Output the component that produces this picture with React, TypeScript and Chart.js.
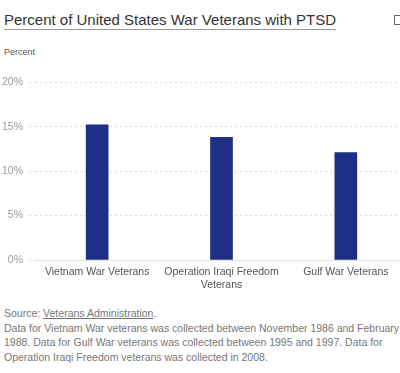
import React, { useEffect, useRef } from "react";
import { Chart, registerables } from "chart.js";

Chart.register(...registerables);

const categories: (string | string[])[] = [
  "Vietnam War Veterans",
  ["Operation Iraqi Freedom", "Veterans"],
  "Gulf War Veterans",
];
const percentValues: number[] = [15.2, 13.8, 12.1];
const yTickMax = 20;
const yTickStep = 5;

const FONT = "'Liberation Sans', Arial, Helvetica, sans-serif";

export default function App() {
  const canvasRef = useRef<HTMLCanvasElement | null>(null);

  useEffect(() => {
    const canvas = canvasRef.current;
    if (!canvas) return;
    const chart = new Chart(canvas, {
      type: "bar",
      data: {
        labels: categories,
        datasets: [
          {
            data: percentValues,
            backgroundColor: "#1f2f87",
            borderWidth: 0,
            barThickness: 22,
          },
        ],
      },
      options: {
        animation: false,
        responsive: false,
        maintainAspectRatio: false,
        devicePixelRatio: 1,
        layout: { padding: { top: 12, right: 2, bottom: 0, left: 0 } },
        plugins: {
          legend: { display: false },
          tooltip: { enabled: false },
          title: { display: false },
        },
        scales: {
          x: {
            offset: true,
            grid: { display: false, drawTicks: false },
            border: { display: true, color: "#e2e2e2", width: 1 },
            ticks: {
              color: "#555",
              font: { family: FONT, size: 10.5 },
              padding: 6,
              maxRotation: 0,
              autoSkip: false,
            },
            afterFit: (scale: any) => {
              scale.height = 40;
            },
          },
          y: {
            min: 0,
            max: yTickMax,
            grid: {
              color: (ctx: any) => (ctx.tick && ctx.tick.value === 0 ? "rgba(0,0,0,0)" : "#dcdcdc"),
              tickColor: (ctx: any) => (ctx.tick && ctx.tick.value === 0 ? "#e2e2e2" : "#dcdcdc"),
              drawTicks: true,
              tickLength: 6,
              tickBorderDash: [2, 3],
            },
            border: { display: false, dash: [2, 3] },
            ticks: {
              stepSize: yTickStep,
              color: "#999",
              font: { family: FONT, size: 10.5 },
              padding: 6,
              callback: (v: any) => `${v}%`,
            },
            afterFit: (scale: any) => {
              scale.width = 35;
            },
          },
        },
      },
    });
    return () => chart.destroy();
  }, []);

  return (
    <div
      style={{
        position: "fixed",
        left: 0,
        top: 0,
        width: 400,
        height: 373,
        overflow: "hidden",
        background: "#fff",
        fontFamily: FONT,
      }}
    >
      <div
        style={{
          position: "absolute",
          left: 4,
          top: 11,
          fontSize: 15,
          lineHeight: "17px",
          color: "#333",
          whiteSpace: "nowrap",
          textDecoration: "underline",
          textDecorationColor: "#999",
          textUnderlineOffset: "4px",
        }}
      >
        Percent of United States War Veterans with PTSD
      </div>
      <div
        style={{
          position: "absolute",
          left: 394,
          top: 15,
          width: 9,
          height: 10,
          border: "1px solid #666",
          boxSizing: "border-box",
        }}
      />
      <div
        style={{
          position: "absolute",
          left: 4,
          top: 47,
          fontSize: 9,
          lineHeight: "11px",
          color: "#555",
        }}
      >
        Percent
      </div>
      <canvas
        ref={canvasRef}
        width={410}
        height={230}
        style={{ position: "absolute", left: 0, top: 70, width: 410, height: 230 }}
      />
      <div
        style={{
          position: "absolute",
          left: 4,
          top: 306,
          fontSize: 10.5,
          lineHeight: "14.5px",
          color: "#777",
          whiteSpace: "nowrap",
        }}
      >
        Source: <span style={{ textDecoration: "underline" }}>Veterans Administration</span>.
        <br />
        Data for Vietnam War veterans was collected between November 1986 and February
        <br />
        1988. Data for Gulf War veterans was collected between 1995 and 1997. Data for
        <br />
        Operation Iraqi Freedom veterans was collected in 2008.
      </div>
    </div>
  );
}
